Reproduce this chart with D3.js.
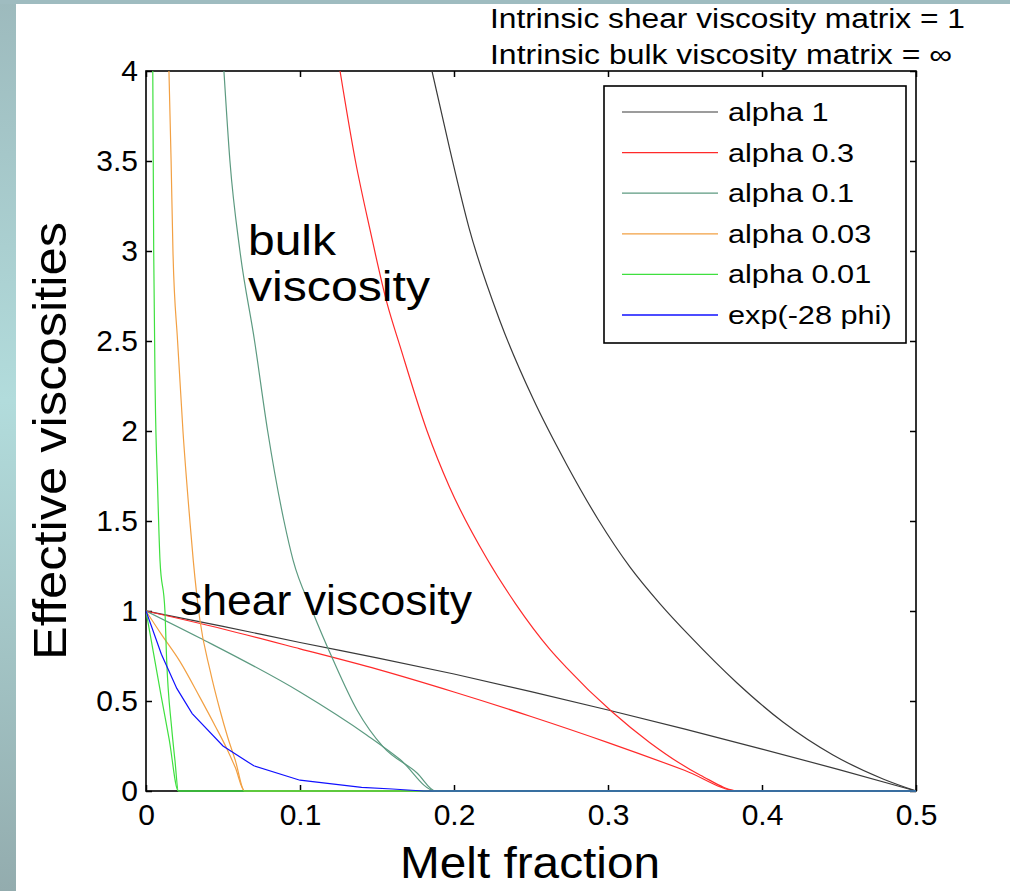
<!DOCTYPE html>
<html lang="en">
  <head>
    <meta charset="UTF-8" />
    <title>effective viscosities</title>
    <style type="text/css">
      html,
      body {
        margin: 0;
        padding: 0;
        background: #fff;
        font-family: "Liberation Sans", Arial, sans-serif;
      }
      svg {
        display: block;
      }
    </style>
  </head>
  <body>
    <svg id="chart"></svg>

    <script src="https://cdn.jsdelivr.net/npm/d3@7"></script>
    <script>
      // === Data === //

      var xTicks = [0, 0.1, 0.2, 0.3, 0.4, 0.5];
      var yTicks = [0, 0.5, 1, 1.5, 2, 2.5, 3, 3.5, 4];
      var xTickLabels = ["0", "0.1", "0.2", "0.3", "0.4", "0.5"];
      var yTickLabels = ["0", "0.5", "1", "1.5", "2", "2.5", "3", "3.5", "4"];

      var legendLabels = ["alpha 1", "alpha 0.3", "alpha 0.1", "alpha 0.03", "alpha 0.01", "exp(-28 phi)"];
      var colours = ["#3a3a3a", "#ff2a2a", "#5c9a80", "#f2a043", "#3fe03f", "#1010ff"];

      // [melt fraction, viscosity]
      var shear1 = [[0, 1], [0.05, 0.915], [0.1, 0.825], [0.15, 0.74], [0.2, 0.65], [0.25, 0.552], [0.3, 0.45], [0.35, 0.344], [0.4, 0.233], [0.45, 0.119], [0.5, 0]];
      var shear03 = [[0, 1], [0.05, 0.9], [0.1, 0.79], [0.15, 0.677], [0.2, 0.55], [0.25, 0.414], [0.3, 0.269], [0.35, 0.114], [0.385, 0], [0.5, 0]];
      var shear01 = [[0, 1], [0.035, 0.85], [0.1, 0.55], [0.1435, 0.31], [0.165, 0.175], [0.188, 0], [0.5, 0]];
      var shear003 = [[0, 1], [0.01, 0.87], [0.022, 0.72], [0.035, 0.52], [0.045, 0.36], [0.0525, 0.235], [0.058, 0.13], [0.064, 0], [0.5, 0]];
      var shear001 = [[0, 1], [0.005, 0.76], [0.01, 0.52], [0.015, 0.29], [0.021, 0], [0.5, 0]];

      var bulk1 = [[0.1857, 4], [0.1974, 3.56], [0.2097, 3.13], [0.2299, 2.61], [0.2513, 2.18], [0.2734, 1.81], [0.2935, 1.51], [0.3143, 1.244], [0.3338, 1.04], [0.3532, 0.86], [0.3838, 0.6], [0.4136, 0.383], [0.4461, 0.2], [0.4786, 0.067], [0.5, 0]];
      var bulk03 = [[0.126, 4], [0.136, 3.5], [0.1455, 3.117], [0.1565, 2.71], [0.165, 2.47], [0.1825, 2.0], [0.197, 1.69], [0.2214, 1.29], [0.24, 1.04], [0.262, 0.79], [0.2726, 0.69], [0.3026, 0.44], [0.327, 0.27], [0.36, 0.088], [0.385, 0], [0.5, 0]];
      var bulk01 = [[0.0506, 4], [0.0545, 3.5], [0.061, 3.0], [0.0705, 2.5], [0.079, 2.0], [0.0896, 1.5], [0.0955, 1.283], [0.108, 1.0], [0.1214, 0.73], [0.137, 0.45], [0.154, 0.245], [0.176, 0.1], [0.188, 0], [0.5, 0]];
      var bulk003 = [[0.0149, 4], [0.0163, 3.5], [0.0175, 3.0], [0.0205, 2.5], [0.024, 2.0], [0.0285, 1.5], [0.0307, 1.28], [0.035, 0.95], [0.0416, 0.67], [0.048, 0.45], [0.053, 0.3], [0.058, 0.17], [0.064, 0], [0.5, 0]];
      var bulk001 = [[0.0044, 4], [0.005, 3.0], [0.006, 2.2], [0.0075, 1.7], [0.0091, 1.28], [0.0123, 1.0], [0.0134, 0.73], [0.0166, 0.356], [0.0188, 0.17], [0.021, 0], [0.5, 0]];

      var expCurve = [[0, 1], [0.01, 0.76], [0.02, 0.57], [0.03, 0.43], [0.05, 0.25], [0.07, 0.14], [0.1, 0.06], [0.14, 0.02], [0.16, 0.011], [0.18, 0], [0.5, 0]];

      // === Layout === //

      var width = 1010,
        height = 891;
      var plot = { left: 146, right: 916, top: 71, bottom: 791 };

      var svg = d3.select("#chart").attr("width", width).attr("height", height);

      // slide frame
      var defs = svg.append("defs");
      var grad = defs.append("linearGradient")
        .attr("id", "strip").attr("x1", 0).attr("y1", 0).attr("x2", 0).attr("y2", 1);
      grad.append("stop").attr("offset", "0%").attr("stop-color", "#9dbabd");
      grad.append("stop").attr("offset", "45%").attr("stop-color", "#b2dcdc");
      grad.append("stop").attr("offset", "100%").attr("stop-color", "#93acae");

      svg.append("rect").attr("x", 0).attr("y", 0).attr("width", 16).attr("height", height).attr("fill", "url(#strip)");
      svg.append("rect").attr("x", 0).attr("y", 0).attr("width", width).attr("height", 4).attr("fill", "#9fbcc0");

      defs.append("clipPath").attr("id", "plotclip")
        .append("rect")
        .attr("x", plot.left).attr("y", plot.top)
        .attr("width", plot.right - plot.left).attr("height", plot.bottom - plot.top + 2);

      var x = d3.scaleLinear().domain([0, 0.5]).range([plot.left, plot.right]);
      var y = d3.scaleLinear().domain([0, 4]).range([plot.bottom, plot.top]);

      // === Axes, matlab style (ticks inside, on all four sides) === //

      svg.append("g").attr("transform", "translate(0," + plot.bottom + ")")
        .call(d3.axisBottom(x).tickValues(xTicks).tickSizeInner(-6).tickSizeOuter(0).tickPadding(13)
          .tickFormat(function(d, i) { return xTickLabels[i]; }));
      svg.append("g").attr("transform", "translate(" + plot.left + ",0)")
        .call(d3.axisLeft(y).tickValues(yTicks).tickSizeInner(-6).tickSizeOuter(0).tickPadding(8)
          .tickFormat(function(d, i) { return yTickLabels[i]; }));
      svg.append("g").attr("transform", "translate(0," + plot.top + ")")
        .call(d3.axisTop(x).tickValues(xTicks).tickSizeInner(-6).tickSizeOuter(0).tickFormat(""));
      svg.append("g").attr("transform", "translate(" + plot.right + ",0)")
        .call(d3.axisRight(y).tickValues(yTicks).tickSizeInner(-6).tickSizeOuter(0).tickFormat(""));

      svg.selectAll(".domain").remove();
      svg.selectAll(".tick line").attr("stroke", "#000").attr("stroke-width", 1.5);
      svg.selectAll(".tick text")
        .attr("font-family", "'Liberation Sans', Arial, sans-serif")
        .attr("font-size", 30)
        .attr("fill", "#000");

      // frame
      svg.append("rect")
        .attr("x", plot.left).attr("y", plot.top)
        .attr("width", plot.right - plot.left).attr("height", plot.bottom - plot.top)
        .attr("fill", "none").attr("stroke", "#000").attr("stroke-width", 1.6);

      // === Curves === //

      var smooth = d3.line()
        .curve(d3.curveMonotoneX)
        .x(function(d) { return x(d[0]); })
        .y(function(d) { return y(d[1]); });
      var straight = d3.line()
        .x(function(d) { return x(d[0]); })
        .y(function(d) { return y(d[1]); });

      var curves = [
        { data: shear1, c: 0 }, { data: bulk1, c: 0 },
        { data: shear03, c: 1 }, { data: bulk03, c: 1 },
        { data: shear01, c: 2 }, { data: bulk01, c: 2 },
        { data: shear003, c: 3 }, { data: bulk003, c: 3 },
        { data: shear001, c: 4 }, { data: bulk001, c: 4 },
        { data: expCurve, c: 5 }
      ];

      svg.append("g").attr("clip-path", "url(#plotclip)")
        .selectAll("path")
        .data(curves)
        .enter()
        .append("path")
        .attr("d", function(d) { return d.c === 5 ? straight(d.data) : smooth(d.data); })
        .attr("fill", "none")
        .attr("stroke", function(d) { return colours[d.c]; })
        .attr("stroke-width", 1.2);

      // === Legend === //

      var legend = svg.append("g");
      legend.append("rect")
        .attr("x", 604).attr("y", 86).attr("width", 302).attr("height", 257)
        .attr("fill", "#fff").attr("stroke", "#000").attr("stroke-width", 1.6);

      var rows = legend.selectAll("g.row")
        .data(legendLabels)
        .enter()
        .append("g")
        .attr("class", "row")
        .attr("transform", function(d, i) { return "translate(0," + (112 + i * 40.6) + ")"; });

      rows.append("line")
        .attr("x1", 622).attr("x2", 718)
        .attr("stroke", function(d, i) { return colours[i]; })
        .attr("stroke-width", function(d, i) { return i === 5 ? 1.6 : 1.2; });

      rows.append("text")
        .attr("transform", "translate(728,9) scale(1.18,1)")
        .attr("font-size", 26)
        .text(function(d) { return d; });

      // === Labels === //

      function label(txt, xPos, yPos, size, len) {
        var t = svg.append("text")
          .attr("x", xPos).attr("y", yPos)
          .attr("font-size", size)
          .attr("fill", "#000")
          .text(txt);
        if (len) t.attr("textLength", len).attr("lengthAdjust", "spacingAndGlyphs");
        return t;
      }

      label("Intrinsic shear viscosity matrix = 1", 490, 28, 27, 475);
      label("Intrinsic bulk viscosity matrix = \u221e", 490, 64, 27, 462);
      label("bulk", 248, 255, 42, 88);
      label("viscosity", 248, 301, 42, 182);
      label("shear viscosity", 180, 615, 42, 292);
      label("Melt fraction", 400, 878, 45, 260);

      svg.append("text")
        .attr("transform", "translate(66,441) rotate(-90)")
        .attr("text-anchor", "middle")
        .attr("font-size", 47)
        .attr("textLength", 438)
        .attr("lengthAdjust", "spacingAndGlyphs")
        .text("Effective viscosities");
    </script>
  </body>
</html>
